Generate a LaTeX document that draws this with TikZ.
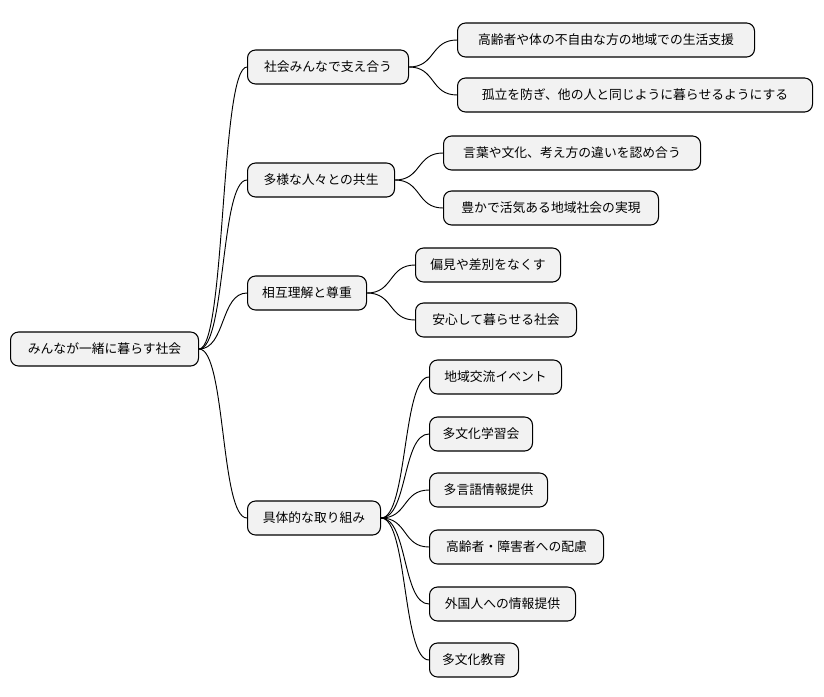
\documentclass[tikz,border=0pt]{standalone}
\usepackage{fontspec}
\setmainfont{Noto Sans CJK JP}
\begin{document}
\begin{tikzpicture}[x=0.75pt,y=-0.75pt,
  box/.style={draw=black,line width=0.8pt,fill=black!5,rounded corners=6pt,minimum height=25.5pt,inner sep=0pt,font=\fontsize{9.6pt}{11pt}\selectfont,anchor=west},
  link/.style={draw=black,line width=0.7pt}]
\useasboundingbox (0,0) rectangle (824,696);
\newcommand\bx[5]{\node[box,minimum width=#4*0.75pt] (#1) at (#2,#3) {#5};}
\bx{r}{10}{349}{188}{みんなが一緒に暮らす社会}
\bx{a}{247}{67}{161}{社会みんなで支え合う}
\bx{b}{247}{180}{147}{多様な人々との共生}
\bx{c}{247}{293}{119}{相互理解と尊重}
\bx{d}{247}{518}{133}{具体的な取り組み}
\bx{a1}{457}{40}{297}{高齢者や体の不自由な方の地域での生活支援}
\bx{a2}{457}{95}{355}{孤立を防ぎ、他の人と同じように暮らせるようにする}
\bx{b1}{443}{153}{257}{言葉や文化、考え方の違いを認め合う}
\bx{b2}{443}{208}{215}{豊かで活気ある地域社会の実現}
\bx{c1}{415}{265}{145}{偏見や差別をなくす}
\bx{c2}{415}{320}{161}{安心して暮らせる社会}
\bx{d1}{429}{377}{132}{地域交流イベント}
\bx{d2}{429}{434}{103}{多文化学習会}
\bx{d3}{429}{490}{118}{多言語情報提供}
\bx{d4}{429}{547}{174}{高齢者・障害者への配慮}
\bx{d5}{429}{604}{146}{外国人への情報提供}
\bx{d6}{429}{660}{89}{多文化教育}
\foreach \p/\c in {r/a,r/b,r/c,r/d,a/a1,a/a2,b/b1,b/b2,c/c1,c/c2,d/d1,d/d2,d/d3,d/d4,d/d5,d/d6}
  \draw[link] (\p.east) .. controls ([xshift=20pt]\p.east) and ([xshift=-20pt]\c.west) .. (\c.west);
\end{tikzpicture}
\end{document}
